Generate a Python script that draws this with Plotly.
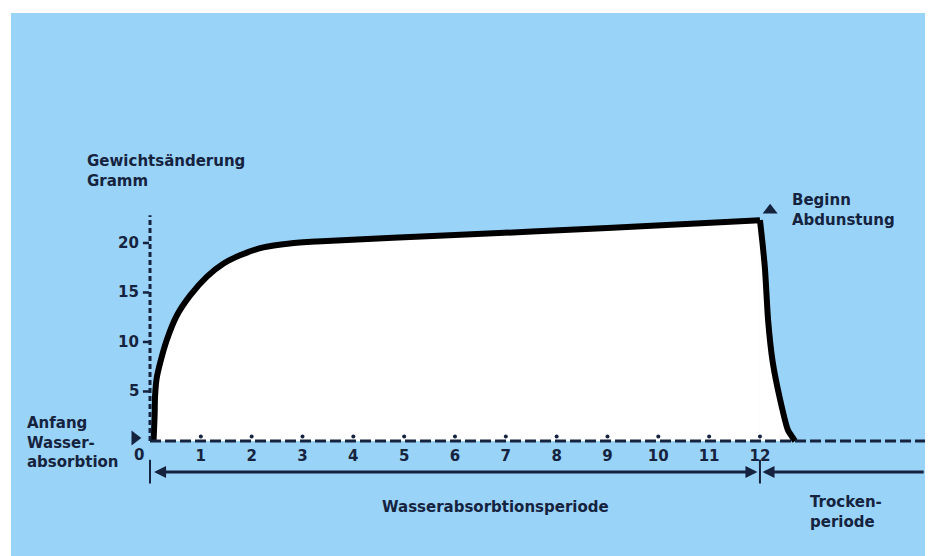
import plotly.graph_objects as go

# ---- data ----
rise_x = [0.07, 0.09, 0.1, 0.13, 0.2, 0.33, 0.52, 0.79, 1.12, 1.44, 1.77, 2.23, 2.75, 3.28, 6.0, 9.0, 12.0]
rise_y = [0, 2.5, 4.6, 6.3, 7.9, 10.2, 12.6, 14.7, 16.6, 17.9, 18.75, 19.55, 19.95, 20.15, 20.8, 21.5, 22.3]
drop_x = [12.0, 12.05, 12.1, 12.16, 12.25, 12.4, 12.55, 12.69]
drop_y = [22.3, 20.0, 17.3, 12.2, 8.0, 4.1, 1.1, 0]
x_ticks = [1, 2, 3, 4, 5, 6, 7, 8, 9, 10, 11, 12]
x_tick_labels = ["1", "2", "3", "4", "5", "6", "7", "8", "9", "10", "11", "12"]
y_ticks = [5, 10, 15, 20]
y_tick_labels = ["5", "10", "15", "20"]
x_end = 15.25
y_axis_top = 22.8
absorb_end = 12
arrow_y = -3.13

NAVY = "#15233f"
BLUE = "#9ad3f8"
FONT = "DejaVu Sans"
LBL = 15

fig = go.Figure()

# white area under curve (rise + plateau smoothed, drop separate)
fig.add_trace(go.Scatter(x=rise_x, y=rise_y, mode="lines", fill="tozeroy",
                         fillcolor="white", line=dict(color="black", width=6, shape="spline", smoothing=0.8),
                         hoverinfo="skip"))
fig.add_trace(go.Scatter(x=drop_x, y=drop_y, mode="lines", fill="tozeroy",
                         fillcolor="white", line=dict(color="black", width=6, shape="spline", smoothing=0.5),
                         hoverinfo="skip"))
# dashed baseline
fig.add_trace(go.Scatter(x=[0, x_end], y=[0, 0], mode="lines",
                         line=dict(color=NAVY, width=3, dash="11px,4px"), hoverinfo="skip"))
# dashed y axis
fig.add_trace(go.Scatter(x=[0, 0], y=[0, y_axis_top], mode="lines",
                         line=dict(color=NAVY, width=3, dash="5px,3px"), hoverinfo="skip"))
# small bumps on baseline
fig.add_trace(go.Scatter(x=x_ticks, y=[0.45] * len(x_ticks), mode="markers",
                         marker=dict(symbol="circle", size=4, color=NAVY), hoverinfo="skip"))
# x tick labels
fig.add_trace(go.Scatter(x=x_ticks, y=[-1.65] * len(x_ticks), mode="text", text=x_tick_labels,
                         textfont=dict(family=FONT, size=15, color=NAVY, weight="bold"), hoverinfo="skip"))
# y tick small marks
for yv in y_ticks:
    fig.add_shape(type="line", x0=-0.14, x1=-0.02, y0=yv, y1=yv, line=dict(color=NAVY, width=2.5))
# y tick labels
for yv, lab in zip(y_ticks, y_tick_labels):
    fig.add_annotation(x=-0.17, y=yv, text=f"<b>{lab}</b>", showarrow=False, xanchor="right",
                       font=dict(family=FONT, size=15, color=NAVY))
fig.add_annotation(x=-0.08, y=-1.4, text="<b>0</b>", showarrow=False, xanchor="right",
                   font=dict(family=FONT, size=15, color=NAVY))

# period arrows
fig.add_annotation(x=absorb_end - 0.05, y=arrow_y, ax=0.05, ay=arrow_y, axref="x", ayref="y",
                   xref="x", yref="y", text="", showarrow=True, arrowside="end+start",
                   arrowhead=2, arrowsize=0.8, arrowwidth=3, arrowcolor=NAVY)
fig.add_annotation(x=absorb_end + 0.05, y=arrow_y, ax=x_end, ay=arrow_y, axref="x", ayref="y",
                   xref="x", yref="y", text="", showarrow=True, arrowside="end",
                   arrowhead=2, arrowsize=0.8, arrowwidth=3, arrowcolor=NAVY)
for xv in [0, absorb_end]:
    fig.add_shape(type="line", x0=xv, x1=xv, y0=-1.9, y1=-4.3, line=dict(color=NAVY, width=2))

# triangles
fig.add_trace(go.Scatter(x=[12.2], y=[23.3], mode="markers",
                         marker=dict(symbol="triangle-up", size=13, color=NAVY), hoverinfo="skip"))
fig.add_trace(go.Scatter(x=[-0.3], y=[0.3], mode="markers",
                         marker=dict(symbol="triangle-right", size=13, color=NAVY), hoverinfo="skip"))

# texts
def txt(x, y, lines, xanchor="left", align="left"):
    s = "<br>".join(f"<b>{l}</b>" for l in lines)
    fig.add_annotation(x=x, y=y, text=s, showarrow=False, xanchor=xanchor, yanchor="middle",
                       align=align, font=dict(family=FONT, size=LBL, color=NAVY))

txt(-1.28, 27.3, ["Gewichtsänderung", "Gramm"])
txt(12.59, 23.35, ["Beginn", "Abdunstung"])
txt(-2.46, -0.2, ["Anfang", "Wasser-", "absorbtion"])
txt(6.8, -6.67, ["Wasserabsorbtionsperiode"], xanchor="center", align="center")
txt(12.95, -7.2, ["Trocken-", "periode"])

# page body adds an 8px offset; margins compensate so the panel spans 11..925 x 13..556
fig.update_layout(
    width=937, height=556,
    margin=dict(l=3, r=20, t=5, b=8),
    paper_bgcolor="white", plot_bgcolor=BLUE,
    showlegend=False,
    xaxis=dict(range=[-2.735, 15.247], visible=False, fixedrange=True),
    yaxis=dict(range=[-11.62, 43.23], visible=False, fixedrange=True),
)

fig.write_html("out.html")
